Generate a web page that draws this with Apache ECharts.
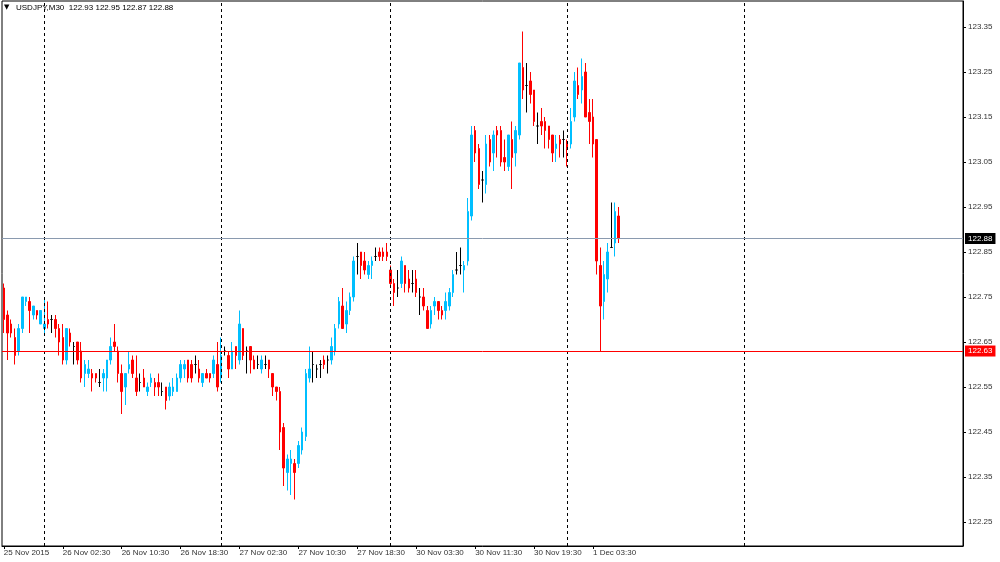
<!DOCTYPE html>
<html><head><meta charset="utf-8">
<script src="https://cdn.jsdelivr.net/npm/echarts@6/dist/echarts.min.js"></script>
<style>html,body{margin:0;padding:0;background:#fff}#c{width:1000px;height:562px}</style>
</head><body><div id="c"></div>
<script>
const symbol = 'USDJPY';
const timeframe = 'M30';
// 30-minute candles, 25 Nov 2015 18:30 ... 1 Dec 2015 07:00
const openP = [
122.77,122.71,122.69,122.66,122.63,122.68,122.74,122.74,122.71,122.72,122.69,122.68,122.70,122.70,122.70,122.68,
122.66,122.61,122.67,122.64,122.65,122.63,122.58,122.58,122.58,122.58,122.56,122.57,122.57,122.61,122.65,122.63,
122.58,122.55,122.59,122.61,122.57,122.56,122.57,122.54,122.56,122.56,122.56,122.54,122.55,122.53,122.54,122.54,
122.57,122.59,122.61,122.60,122.60,122.59,122.56,122.58,122.58,122.58,122.60,122.57,122.63,122.62,122.59,122.64,
122.61,122.68,122.63,122.64,122.61,122.60,122.59,122.60,122.61,122.58,122.55,122.54,122.46,122.36,122.38,122.38,
122.38,122.41,122.44,122.57,122.60,122.59,122.60,122.61,122.61,122.61,122.63,122.69,122.73,122.69,122.72,122.75,
122.84,122.85,122.83,122.80,122.82,122.84,122.85,122.85,122.85,122.81,122.78,122.77,122.78,122.82,122.79,122.78,
122.79,122.75,122.75,122.72,122.69,122.73,122.74,122.72,122.72,122.73,122.76,122.81,122.82,122.81,122.83,122.93,
123.12,123.08,123.01,123.00,123.10,123.07,123.12,123.12,123.06,123.04,123.10,123.07,123.11,123.26,123.22,123.23,
123.21,123.13,123.14,123.14,123.13,123.11,123.08,123.10,123.10,123.09,123.09,123.15,123.22,123.21,123.25,123.16,
123.15,123.10,122.82,122.74,122.79,122.86,122.87,122.93
];
const closeP = [
122.70,122.67,122.67,122.62,122.68,122.75,122.75,122.72,122.73,122.71,122.72,122.69,122.69,122.70,122.68,122.65,
122.61,122.68,122.65,122.64,122.61,122.57,122.60,122.59,122.57,122.57,122.56,122.58,122.61,122.64,122.64,122.58,
122.54,122.58,122.60,122.58,122.54,122.56,122.55,122.55,122.57,122.55,122.55,122.54,122.52,122.55,122.55,122.57,
122.60,122.60,122.57,122.57,122.60,122.57,122.58,122.57,122.57,122.61,122.55,122.62,122.63,122.59,122.63,122.62,
122.69,122.62,122.63,122.61,122.59,122.60,122.61,122.60,122.59,122.55,122.54,122.45,122.37,122.39,122.39,122.36,
122.42,122.45,122.58,122.59,122.60,122.59,122.60,122.60,122.61,122.64,122.68,122.74,122.68,122.72,122.75,122.83,
122.84,122.82,122.81,122.82,122.83,122.84,122.84,122.84,122.84,122.78,122.76,122.77,122.83,122.78,122.77,122.78,
122.76,122.75,122.73,122.68,122.72,122.74,122.72,122.71,122.74,122.76,122.80,122.81,122.82,122.82,122.94,123.11,
123.07,123.00,123.01,123.09,123.05,123.11,123.11,123.05,123.05,123.11,123.06,123.12,123.27,123.21,123.22,123.20,
123.14,123.13,123.13,123.12,123.10,123.07,123.09,123.09,123.10,123.08,123.14,123.23,123.20,123.24,123.15,123.14,
123.09,122.83,122.73,122.80,122.85,122.86,122.94,122.88
];
const lowP = [
122.67,122.61,122.66,122.60,122.62,122.67,122.73,122.67,122.70,122.70,122.69,122.67,122.68,122.67,122.66,122.62,
122.60,122.60,122.64,122.60,122.60,122.56,122.55,122.57,122.54,122.56,122.55,122.54,122.54,122.60,122.63,122.56,
122.49,122.51,122.58,122.57,122.53,122.54,122.55,122.53,122.55,122.53,122.53,122.53,122.50,122.52,122.53,122.54,
122.56,122.57,122.56,122.56,122.58,122.56,122.55,122.57,122.56,122.57,122.54,122.56,122.62,122.57,122.59,122.59,
122.60,122.61,122.58,122.58,122.59,122.59,122.58,122.59,122.57,122.53,122.52,122.41,122.33,122.32,122.31,122.30,
122.37,122.40,122.43,122.56,122.56,122.57,122.57,122.59,122.58,122.60,122.62,122.68,122.68,122.67,122.71,122.74,
122.80,122.79,122.80,122.79,122.79,122.83,122.83,122.83,122.83,122.77,122.73,122.75,122.77,122.76,122.76,122.76,
122.75,122.71,122.72,122.68,122.68,122.71,122.70,122.70,122.70,122.72,122.75,122.80,122.80,122.76,122.82,122.92,
123.05,122.99,122.96,122.98,123.04,123.03,123.06,123.04,123.03,123.03,122.99,123.04,123.10,123.19,123.16,123.18,
123.13,123.09,123.11,123.08,123.08,123.05,123.05,123.06,123.06,123.04,123.08,123.14,123.19,123.18,123.15,123.09,
123.06,122.80,122.63,122.70,122.76,122.86,122.84,122.87
];
const highP = [
122.78,122.72,122.70,122.68,122.69,122.75,122.75,122.75,122.73,122.72,122.72,122.75,122.74,122.71,122.71,122.69,
122.69,122.68,122.68,122.65,122.65,122.65,122.61,122.61,122.59,122.58,122.59,122.59,122.61,122.66,122.69,122.64,
122.60,122.58,122.63,122.62,122.62,122.58,122.59,122.56,122.58,122.57,122.58,122.56,122.55,122.56,122.57,122.58,
122.61,122.61,122.61,122.61,122.62,122.61,122.58,122.59,122.58,122.62,122.65,122.66,122.64,122.63,122.65,122.64,
122.72,122.68,122.64,122.64,122.62,122.62,122.62,122.62,122.61,122.58,122.55,122.55,122.47,122.40,122.41,122.39,
122.43,122.46,122.59,122.64,122.63,122.60,122.61,122.62,122.62,122.66,122.69,122.75,122.77,122.74,122.76,122.84,
122.87,122.85,122.85,122.83,122.84,122.86,122.86,122.86,122.87,122.82,122.79,122.81,122.84,122.82,122.81,122.81,
122.81,122.77,122.77,122.73,122.73,122.75,122.74,122.73,122.76,122.77,122.81,122.85,122.86,122.83,122.97,123.13,
123.13,123.09,123.03,123.11,123.11,123.12,123.13,123.13,123.10,123.11,123.14,123.13,123.27,123.34,123.27,123.25,
123.21,123.16,123.17,123.15,123.13,123.11,123.11,123.11,123.12,123.10,123.17,123.25,123.26,123.28,123.27,123.19,
123.19,123.10,122.86,122.83,122.87,122.96,122.96,122.95
];
const xTickLabels = ['25 Nov 2015','26 Nov 02:30','26 Nov 10:30','26 Nov 18:30','27 Nov 02:30','27 Nov 10:30',
                     '27 Nov 18:30','30 Nov 03:30','30 Nov 11:30','30 Nov 19:30','1 Dec 03:30'];
const yTicks = [122.25,122.35,122.45,122.55,122.65,122.75,122.85,122.95,123.05,123.15,123.25,123.35];
const bidPrice = 122.88;
const levelPrice = 122.63;
const daySeparatorIdx = [11, 59, 105, 153, 201];
const totalSlots = 261;
const labelStep = 16;

const categories = [];
for (let i = 0; i < totalSlots; i++) categories.push(String(i));

const candleData = openP.map((o, i) => {
  const item = { value: [o, closeP[i], lowP[i], highP[i]] };
  if (o === closeP[i]) item.itemStyle = { color: '#000', color0: '#000', borderColor: '#000', borderColor0: '#000' };
  return item;
});

const showLabel = (idx) => idx % labelStep === 0 && idx / labelStep < xTickLabels.length;
const font = 'Liberation Sans';

function hLineSeries(price, lineColor, boxColor) {
  return {
    type: 'line', data: [], z: 2, color: lineColor,
    markLine: {
      silent: true, symbol: ['none', 'none'], animation: false,
      lineStyle: { color: lineColor, type: 'solid', width: 1, opacity: 1 },
      emphasis: { disabled: true },
      label: { show: true, position: 'end', distance: 2, formatter: price.toFixed(2), backgroundColor: boxColor, color: '#fff',
               fontSize: 8, fontFamily: font, padding: [2, 3, 1, 3] },
      data: [{ yAxis: price }]
    }
  };
}

const chart = echarts.init(document.getElementById('c'), null, { renderer: 'canvas' });
chart.setOption({
  animation: false,
  backgroundColor: '#fff',
  grid: { left: 2, top: 1, right: 37, bottom: 16, show: true, borderColor: '#000', borderWidth: 1, backgroundColor: 'transparent' },
  graphic: [
    { type: 'text', left: 4, top: 4, style: { text: '\u25BC', fontSize: 7, fontFamily: 'DejaVu Sans', fill: '#000' } },
    { type: 'text', left: 16, top: 4, style: {
        text: symbol + ',' + timeframe + '  ' + [openP[openP.length-1], highP[highP.length-1], lowP[lowP.length-1], closeP[closeP.length-1]].map(v => v.toFixed(2)).join(' '),
        fontSize: 8, fontFamily: font, fill: '#000' } }
  ],
  xAxis: {
    type: 'category', data: categories, boundaryGap: true,
    axisLine: { lineStyle: { color: '#000', width: 1 } },
    axisTick: { show: true, alignWithLabel: true, interval: showLabel, length: 3, lineStyle: { color: '#000' } },
    axisLabel: { interval: showLabel, formatter: (v, idx) => xTickLabels[idx / labelStep], align: 'left',
                 fontSize: 8, fontFamily: font, color: '#333', margin: 3 },
    splitLine: { show: false }
  },
  yAxis: {
    type: 'value', position: 'right', min: 122.1967, max: 123.4078, scale: true,
    axisLine: { show: true, lineStyle: { color: '#000', width: 1 } },
    axisTick: { show: true, length: 3, customValues: yTicks, lineStyle: { color: '#000' } },
    axisLabel: { customValues: yTicks, formatter: v => v.toFixed(2), fontSize: 8, fontFamily: font, color: '#333', margin: 5 },
    splitLine: { show: false }
  },
  series: [{
    type: 'candlestick',
    data: candleData,
    barWidth: 2,
    z: 3,
    itemStyle: { color: '#00bfff', color0: '#ff0000', borderColor: '#00bfff', borderColor0: '#ff0000', borderWidth: 1 },
    markLine: {
      silent: true, symbol: ['none', 'none'], animation: false,
      data: daySeparatorIdx.map(idx => ({ xAxis: String(idx), lineStyle: { color: '#000', type: [3, 3], width: 1 }, label: { show: false } }))
    }
  },
  hLineSeries(bidPrice, '#8a9aaf', '#000'),
  hLineSeries(levelPrice, '#ff0000', '#ff0000')
  ]
});
</script>
</body></html>
